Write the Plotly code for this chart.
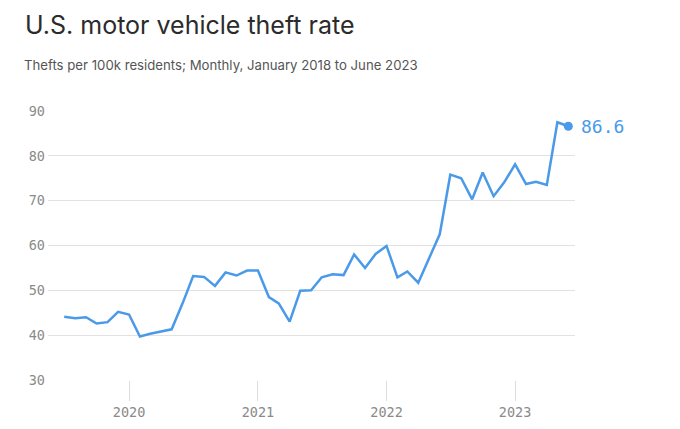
import plotly.graph_objects as go
import pandas as pd

# Monthly values, July 2019 .. June 2023
months = pd.date_range("2019-07-01", "2023-06-01", freq="MS")
theft_rate = [
    44.1, 43.8, 44.0, 42.6, 42.9, 45.2,          # Jul-Dec 2019
    44.6, 39.7, 40.3, 40.8, 41.3, 47.1,          # Jan-Jun 2020
    53.2, 53.0, 51.0, 54.0, 53.3, 54.4,          # Jul-Dec 2020
    54.4, 48.5, 47.1, 43.0, 49.9, 50.0,          # Jan-Jun 2021
    52.9, 53.6, 53.4, 58.0, 55.0, 58.1,          # Jul-Dec 2021
    59.9, 52.9, 54.2, 51.7, 56.9, 62.5,          # Jan-Jun 2022
    75.8, 75.0, 70.3, 76.3, 71.0, 74.1,          # Jul-Dec 2022
    78.1, 73.7, 74.2, 73.5, 87.5, 86.6,          # Jan-Jun 2023
]
x_tick_vals = ["2020-01-01", "2021-01-01", "2022-01-01", "2023-01-01"]
x_tick_text = ["2020", "2021", "2022", "2023"]
y_tick_vals = [30, 40, 50, 60, 70, 80, 90]

title_text = "U.S. motor vehicle theft rate"
subtitle_text = "Thefts per 100k residents; Monthly, January 2018 to June 2023"

LINE = "#4a9ae9"
MONO = "DejaVu Sans Mono"

fig = go.Figure()
fig.add_trace(go.Scatter(
    x=months, y=theft_rate, mode="lines",
    line=dict(color=LINE, width=2.5),
    hoverinfo="skip", showlegend=False,
))
fig.add_trace(go.Scatter(
    x=[months[-1]], y=[theft_rate[-1]], mode="markers",
    marker=dict(color=LINE, size=9),
    hoverinfo="skip", showlegend=False,
))

fig.add_annotation(
    x=months[-1], y=theft_rate[-1], text=f"{theft_rate[-1]:.1f}",
    showarrow=False, xanchor="left", yanchor="middle", xshift=11,
    font=dict(family=MONO, size=18, color=LINE),
)

W, H = 680, 429
L, R, T, B = 48, 105, 110.7, 49
pw = W - L - R
ph = H - T - B

fig.add_annotation(
    xref="paper", yref="paper",
    x=(23 - L) / pw, y=1 + (T - 7.5) / ph,
    text=title_text, showarrow=False, xanchor="left", yanchor="top",
    font=dict(family="Inter", size=25, color="#2b2b2b"),
)
fig.add_annotation(
    xref="paper", yref="paper",
    x=(22 - L) / pw, y=1 + (T - 55) / ph,
    text=subtitle_text, showarrow=False, xanchor="left", yanchor="top",
    font=dict(family="Inter", size=13.2, color="#555555"),
)

fig.update_layout(
    width=W, height=H,
    margin=dict(l=L, r=R, t=T, b=B, pad=0, autoexpand=False),
    paper_bgcolor="white", plot_bgcolor="white",
    hovermode=False,
    xaxis=dict(
        range=["2019-05-16", "2023-06-20"],
        tickvals=x_tick_vals, ticktext=x_tick_text,
        showgrid=False, zeroline=False, showline=False, automargin=False,
        ticks="outside", ticklen=20, tickcolor="#dddddd", tickwidth=1,
        tickfont=dict(family=MONO, size=13.5, color="#8a8a8a"),
    ),
    yaxis=dict(
        range=[30, 90],
        tickvals=y_tick_vals, automargin=False,
        showgrid=True, gridcolor="#e2e2e2", gridwidth=1,
        zeroline=False, showline=False,
        tickfont=dict(family=MONO, size=13.5, color="#8a8a8a"),
        ticklabelstandoff=2,
    ),
)

fig.write_html(
    "out.html",
    config={"displayModeBar": False},
    post_script="document.body.style.margin='0';",
)
